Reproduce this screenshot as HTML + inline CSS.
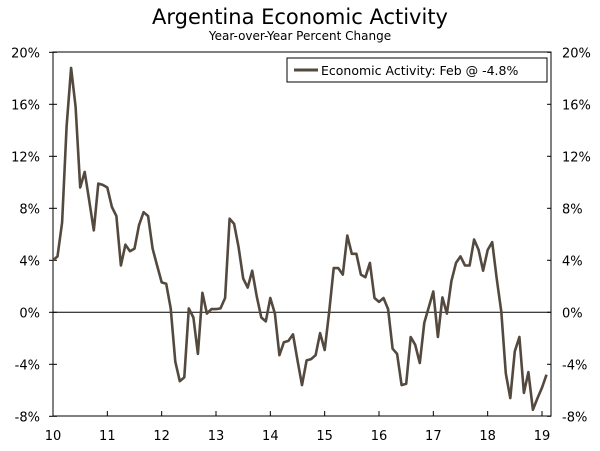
<!DOCTYPE html>
<html><head><meta charset="utf-8"><style>
body{margin:0;background:#fff;width:600px;height:447px;overflow:hidden;font-family:"DejaVu Sans","Liberation Sans",sans-serif}
</style></head><body>
<svg width="600" height="447" xmlns="http://www.w3.org/2000/svg">
<text x="300" y="24" text-anchor="middle" font-size="21" font-family="DejaVu Sans, sans-serif">Argentina Economic Activity</text>
<text x="300" y="40" text-anchor="middle" font-size="12">Year-over-Year Percent Change</text>
<g id="axes"></g>
<g id="series"></g>
<g>
<rect x="287" y="58" width="260" height="24" fill="#fff" stroke="#000" stroke-width="1"/>
<line x1="294" y1="70" x2="318" y2="70" stroke="#54493f" stroke-width="3"/>
<text x="321" y="75" font-size="12.5">Economic Activity: Feb @ -4.8%</text>
</g>
</svg>
<script>
const values=[4.0,4.3,6.9,14.3,18.8,15.8,9.6,10.8,8.6,6.3,9.9,9.8,
9.6,8.1,7.4,3.6,5.2,4.7,4.9,6.7,7.7,7.4,4.9,3.6,
2.3,2.2,0.3,-3.8,-5.3,-5.0,0.3,-0.4,-3.2,1.5,-0.1,0.25,
0.25,0.3,1.1,7.2,6.8,5.0,2.6,1.9,3.2,1.2,-0.4,-0.7,
1.1,-0.1,-3.3,-2.3,-2.2,-1.7,-3.7,-5.6,-3.7,-3.6,-3.3,-1.6,
-2.9,0.05,3.4,3.4,2.9,5.9,4.5,4.5,2.9,2.7,3.8,1.1,
0.8,1.1,0.25,-2.8,-3.2,-5.6,-5.5,-1.9,-2.5,-3.9,-0.8,0.4,
1.6,-1.9,1.15,-0.1,2.4,3.8,4.3,3.6,3.6,5.6,4.8,3.2,
4.8,5.4,2.6,0.05,-4.7,-6.6,-3.0,-1.9,-6.2,-4.6,-7.5,-6.6,
-5.8,-4.8];
const yTicks=[-8,-4,0,4,8,12,16,20];
const yearLabels=["10","11","12","13","14","15","16","17","18","19"];
const X0=53,X1=551,YT=52,YB=416;
const xm=i=>X0+i*(542-X0)/108;
const yv=v=>312.3-v*13;
const NS="http://www.w3.org/2000/svg";
const ax=document.getElementById('axes');
function mk(t,a,p){const e=document.createElementNS(NS,t);for(const k in a)e.setAttribute(k,a[k]);p.appendChild(e);return e;}
const frame=mk('rect',{x:X0,y:YT,width:X1-X0,height:YB-YT,fill:'none',stroke:'#000','stroke-width':1},ax);


const zl=mk('line',{x1:X0,x2:X1,y1:yv(0),y2:yv(0),stroke:'#000','stroke-width':1},ax);


yTicks.forEach(t=>{
 const y=yv(t);
 mk('line',{x1:X0-4,x2:X0+4,y1:y,y2:y,stroke:'#000'},ax);
 mk('line',{x1:X1-4,x2:X1,y1:y,y2:y,stroke:'#000'},ax);
 const l=mk('text',{x:40,y:y+5,'text-anchor':'end','font-size':13},ax);l.textContent=t+'%';
 
 
 const r=mk('text',{x:562,y:y+5,'font-size':13},ax);r.textContent=t+'%';
 
 
});
yearLabels.forEach((s,k)=>{
 const x=xm(k*12);
 mk('line',{x1:x,x2:x,y1:YB-5,y2:YB,stroke:'#000'},ax);
 const t=mk('text',{x:x,y:440,'text-anchor':'middle','font-size':13},ax);t.textContent=s;
 
 
});
const line=mk('polyline',{points:values.map((v,i)=>xm(i).toFixed(1)+','+yv(v).toFixed(1)).join(' '),fill:'none',stroke:'#54493f','stroke-width':2.6,'stroke-linejoin':'round'},document.getElementById('series'));


</script>
</body></html>
